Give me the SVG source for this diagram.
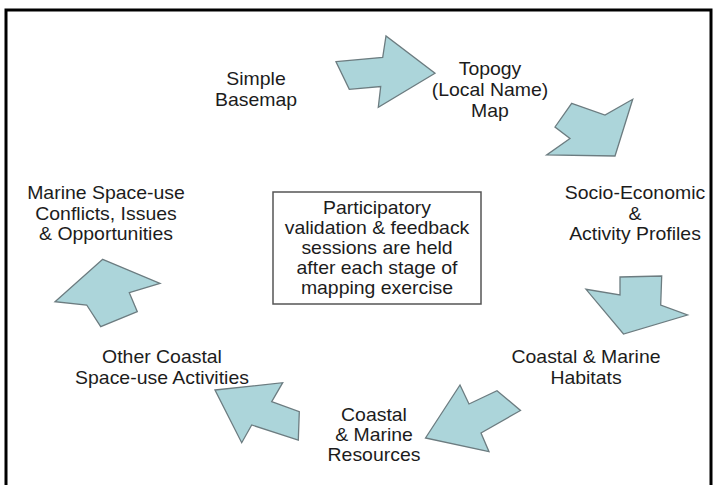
<svg xmlns="http://www.w3.org/2000/svg" width="713" height="485" viewBox="0 0 713 485">
  <style>
    .lbl { font-family: "Liberation Sans", Arial, sans-serif; font-size: 18px; fill: #1c1c1c; text-anchor: middle; }
    .arrow { fill: #acd5da; stroke: #6c7c80; stroke-width: 1.3; stroke-linejoin: miter; }
    .frame { fill: none; stroke: #000; stroke-width: 3; }
    .box { fill: #fff; stroke: #555; stroke-width: 1.5; }
  </style>
  <rect x="0" y="0" width="713" height="485" fill="#fff"/>
  <rect class="frame" x="6" y="10" width="705" height="500"/>

  <g id="connectors">
    <polygon class="arrow" points="336,61.7 382.7,57.3 386,36 435,73.3 378.3,107.3 380.7,86.5 349.3,89.3"/>
    <polygon class="arrow" points="571.7,103.3 605,115 632.7,99.3 615,156 546.7,155 570,138.5 555,127"/>
    <polygon class="arrow" points="620,277 661.7,276 660.7,305 687.5,315 623.5,334 586,289.3 620,295"/>
    <polygon class="arrow" points="425.5,438 460,385 469,404 497,390.7 520.5,410.5 481,433 489,451.7"/>
    <polygon class="arrow" points="215,390 282.7,382.7 271.7,401.7 299.3,411.7 298.3,440 251.7,425 241.7,442.7"/>
    <polygon class="arrow" points="102.7,259.3 160,283.3 129.3,292.7 137.3,311.7 100.7,326.7 86.7,305 55,301.7"/>
  </g>

  <g id="node-basemap">
    <text class="lbl" transform="translate(256 0) scale(1.08 1)"><tspan x="0" y="85.5">Simple</tspan><tspan x="0" y="106.5">Basemap</tspan></text>
  </g>
  <g id="node-topogy">
    <text class="lbl" transform="translate(490 0) scale(1.08 1)"><tspan x="0" y="75.5">Topogy</tspan><tspan x="0" y="96.5">(Local Name)</tspan><tspan x="0" y="117.5">Map</tspan></text>
  </g>
  <g id="node-socio">
    <text class="lbl" transform="translate(635 0) scale(1.08 1)"><tspan x="0" y="199.5">Socio-Economic</tspan><tspan x="0" y="220">&amp;</tspan><tspan x="0" y="240.5">Activity Profiles</tspan></text>
  </g>
  <g id="node-habitats">
    <text class="lbl" transform="translate(586 0) scale(1.08 1)"><tspan x="0" y="363">Coastal &amp; Marine</tspan><tspan x="0" y="384">Habitats</tspan></text>
  </g>
  <g id="node-resources">
    <text class="lbl" transform="translate(374 0) scale(1.08 1)"><tspan x="0" y="421.5">Coastal</tspan><tspan x="0" y="441.5">&amp; Marine</tspan><tspan x="0" y="461.5">Resources</tspan></text>
  </g>
  <g id="node-other">
    <text class="lbl" transform="translate(162 0) scale(1.08 1)"><tspan x="0" y="363">Other Coastal</tspan><tspan x="0" y="384">Space-use Activities</tspan></text>
  </g>
  <g id="node-conflicts">
    <text class="lbl" transform="translate(106 0) scale(1.08 1)"><tspan x="0" y="199.5">Marine Space-use</tspan><tspan x="0" y="220">Conflicts, Issues</tspan><tspan x="0" y="240.5">&amp; Opportunities</tspan></text>
  </g>
  <g id="node-center">
    <rect class="box" x="273" y="192" width="208" height="112"/>
    <text class="lbl" transform="translate(377 0) scale(1.08 1)"><tspan x="0" y="214">Participatory</tspan><tspan x="0" y="234">validation &amp; feedback</tspan><tspan x="0" y="254">sessions are held</tspan><tspan x="0" y="274">after each stage of</tspan><tspan x="0" y="294">mapping exercise</tspan></text>
  </g>
</svg>
